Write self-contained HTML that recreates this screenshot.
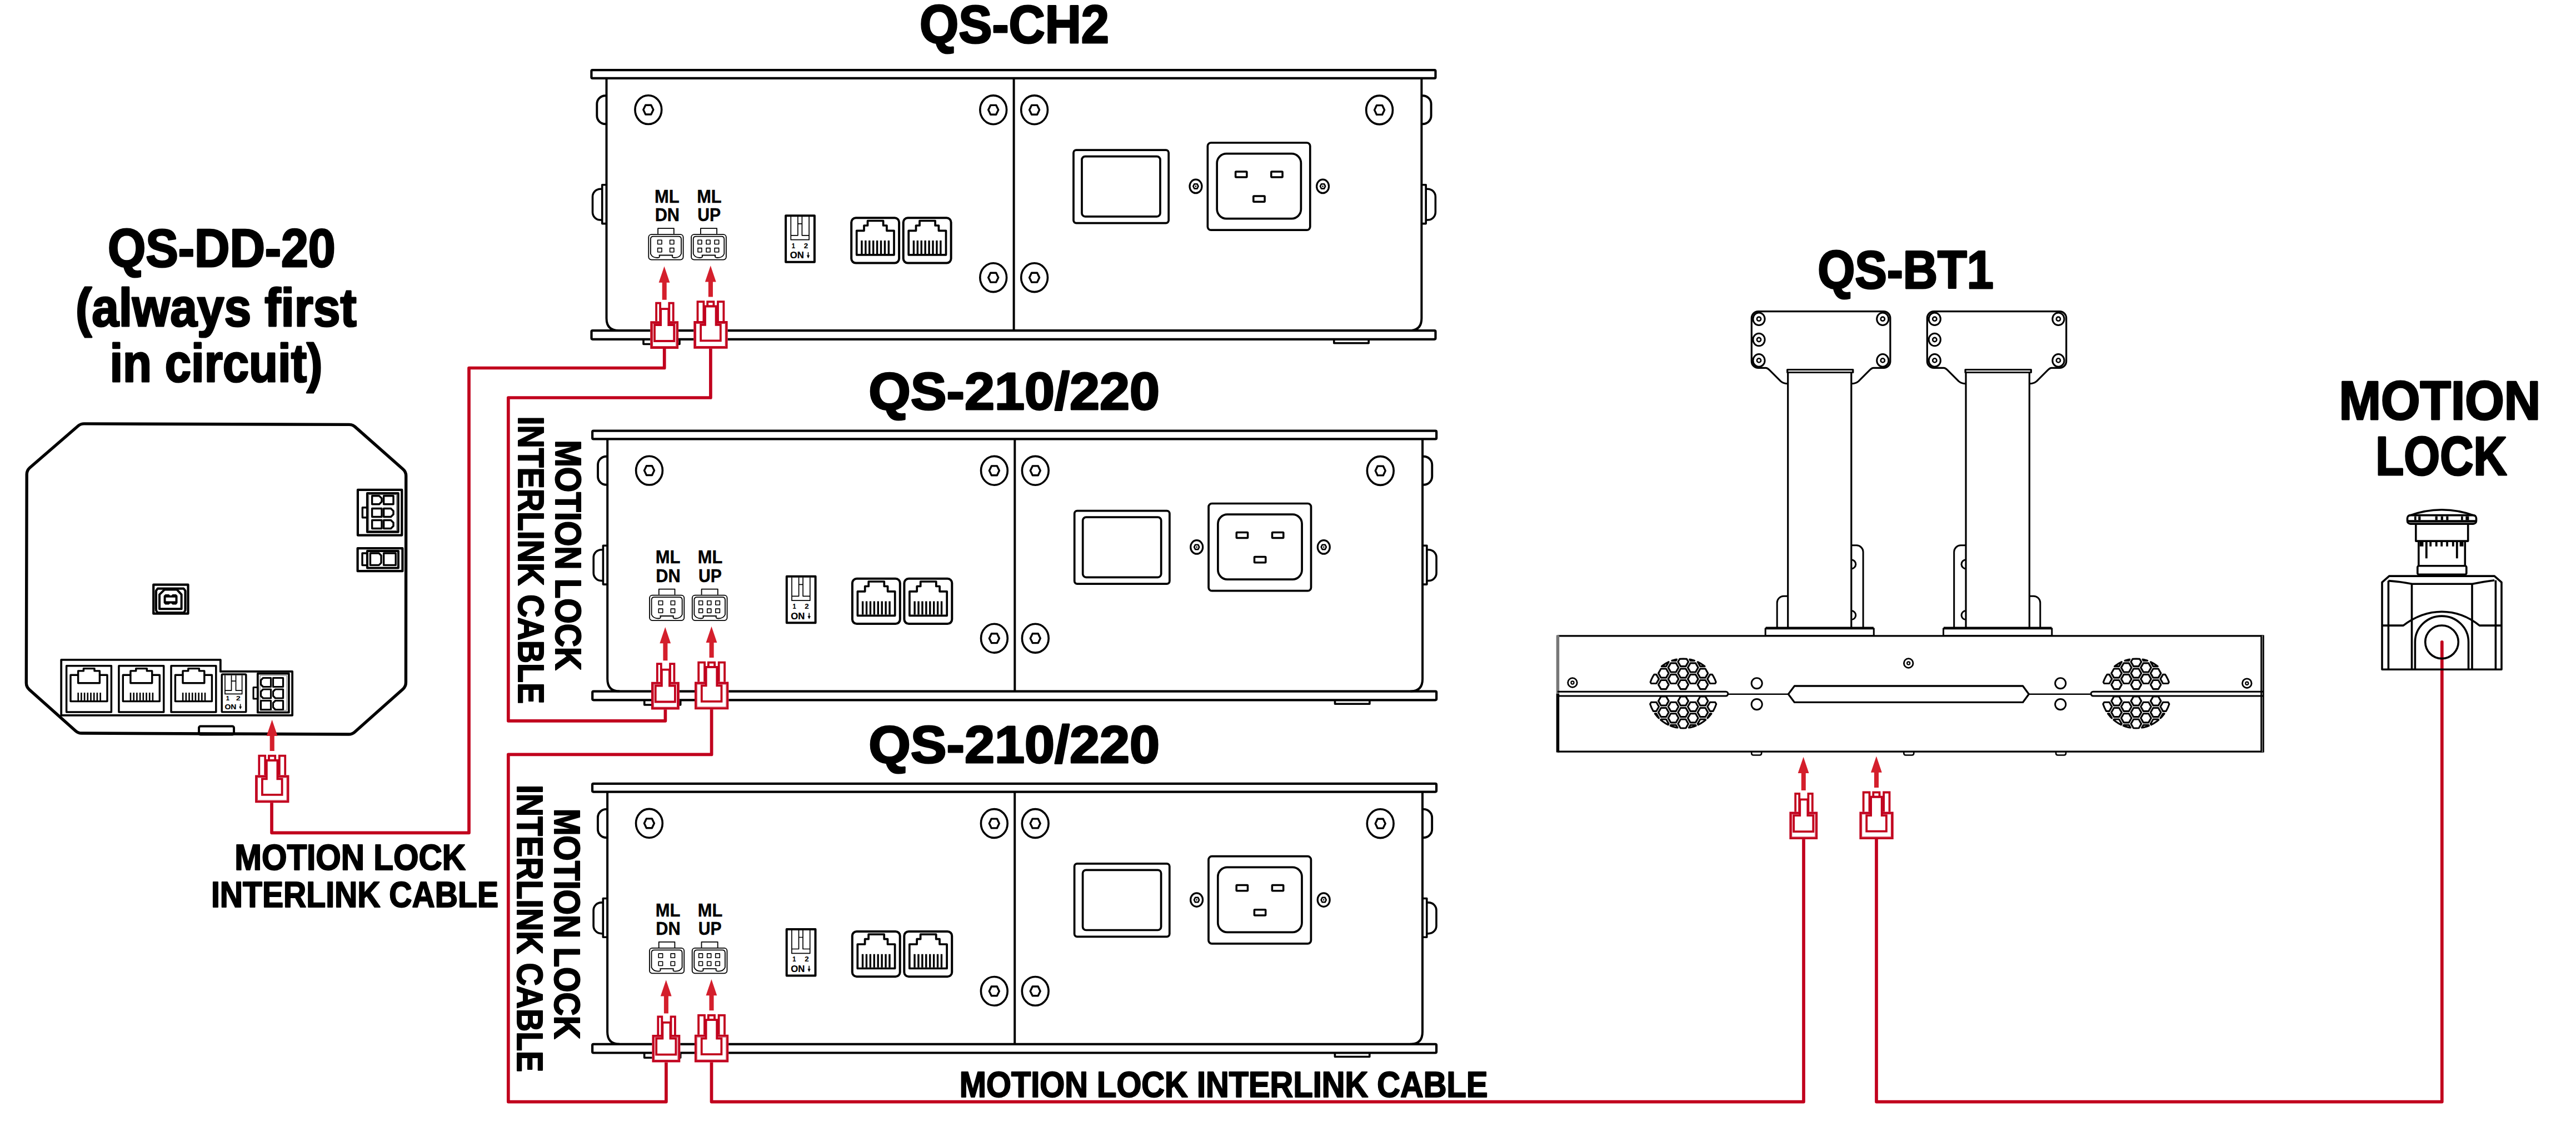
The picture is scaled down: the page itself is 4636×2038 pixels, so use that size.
<!DOCTYPE html><html><head><meta charset="utf-8"><style>html,body{margin:0;padding:0;background:#fff;overflow:hidden}svg{display:block}</style></head><body><svg width="4636" height="2038" viewBox="0 0 4636 2038"><rect width="4636" height="2038" fill="#fff"/><g><g fill="none" stroke="#000" stroke-linejoin="round"><rect x="1064.4" y="126.2" width="1519.1" height="14.7" rx="2" stroke-width="4.2"/><rect x="1064.5" y="595.1" width="1519" height="15.7" rx="2" stroke-width="4.2"/><path d="M1091.5,141 V573 Q1091.5,595.1 1113.5,595.1 M2536.4,595.1 Q2558.4,595.1 2558.4,573 V141" stroke-width="4"/><path d="M1824.6,141 V595" stroke-width="4"/><path d="M1158,611 V619.5 H1223 V611" stroke-width="3.6"/><path d="M2400.8,611 V617.8 H2463.2 V611" stroke-width="3.6"/><path d="M1091.5,172.2 H1089.3 A15,15 0 0 0 1074.3,187.2 V208.3 A15,15 0 0 0 1089.3,223.3 H1091.5" stroke-width="3.9"/><path d="M1091.5,332.8 H1083.7 V402.6 H1091.5" stroke-width="3.6"/><path d="M1083.7,340.2 H1080.5 A14,14 0 0 0 1066.5,354.2 V382 A14,14 0 0 0 1080.5,396 H1083.7" stroke-width="3.6"/><g transform="translate(3649.9,0) scale(-1,1)"><path d="M1091.5,172.2 H1089.3 A15,15 0 0 0 1074.3,187.2 V208.3 A15,15 0 0 0 1089.3,223.3 H1091.5" stroke-width="3.9"/><path d="M1091.5,332.8 H1083.7 V402.6 H1091.5" stroke-width="3.6"/><path d="M1083.7,340.2 H1080.5 A14,14 0 0 0 1066.5,354.2 V382 A14,14 0 0 0 1080.5,396 H1083.7" stroke-width="3.6"/></g><ellipse cx="1166.8" cy="197.6" rx="23.9" ry="25.9" stroke-width="3.6"/><path d="M1157.8,197.6 L1161.8,189.2 L1171.8,189.2 L1175.8,197.6 L1171.8,206 L1161.8,206 Z" stroke-width="3.4"/><ellipse cx="1787.7" cy="197.8" rx="23.9" ry="25.9" stroke-width="3.6"/><path d="M1778.7,197.8 L1782.7,189.4 L1792.7,189.4 L1796.7,197.8 L1792.7,206.2 L1782.7,206.2 Z" stroke-width="3.4"/><ellipse cx="1861.6" cy="197.8" rx="23.9" ry="25.9" stroke-width="3.6"/><path d="M1852.6,197.8 L1856.6,189.4 L1866.6,189.4 L1870.6,197.8 L1866.6,206.2 L1856.6,206.2 Z" stroke-width="3.4"/><ellipse cx="2482.6" cy="198" rx="23.9" ry="25.9" stroke-width="3.6"/><path d="M2473.6,198 L2477.6,189.6 L2487.6,189.6 L2491.6,198 L2487.6,206.4 L2477.6,206.4 Z" stroke-width="3.4"/><ellipse cx="1787.7" cy="499.7" rx="23.9" ry="25.9" stroke-width="3.6"/><path d="M1778.7,499.7 L1782.7,491.3 L1792.7,491.3 L1796.7,499.7 L1792.7,508.1 L1782.7,508.1 Z" stroke-width="3.4"/><ellipse cx="1861.6" cy="499.7" rx="23.9" ry="25.9" stroke-width="3.6"/><path d="M1852.6,499.7 L1856.6,491.3 L1866.6,491.3 L1870.6,499.7 L1866.6,508.1 L1856.6,508.1 Z" stroke-width="3.4"/><rect x="1167.3" y="422.1" width="62.3" height="45.5" rx="5" stroke-width="1.8"/><path d="M1184.1,421.2 V411.1 H1212.8 V421.2" stroke-width="1.8"/><path d="M1175.9,425.6 H1221 Q1226,425.6 1226,430.6 V457 Q1223,464 1214,464 Q1208,464 1210.45,459.5 H1186.45 Q1188.9,464 1182.9,464 Q1173.9,464 1170.9,457 V430.6 Q1170.9,425.6 1175.9,425.6 Z" stroke-width="1.8"/><rect x="1183.6" y="432.2" width="7.4" height="7.3" stroke-width="1.6"/><rect x="1183.6" y="446.6" width="7.4" height="7.2" stroke-width="1.6"/><rect x="1205.6" y="432.2" width="7.3" height="7.3" stroke-width="1.6"/><rect x="1205.6" y="446.6" width="7.3" height="7.2" stroke-width="1.6"/><rect x="1244.1" y="422.1" width="62.8" height="45.5" rx="5" stroke-width="1.8"/><path d="M1260.9,421.2 V411.1 H1290.1 V421.2" stroke-width="1.8"/><path d="M1252.7,425.6 H1298.3 Q1303.3,425.6 1303.3,430.6 V457 Q1300.3,464 1291.3,464 Q1285.3,464 1287.5,459.5 H1263.5 Q1265.7,464 1259.7,464 Q1250.7,464 1247.7,457 V430.6 Q1247.7,425.6 1252.7,425.6 Z" stroke-width="1.8"/><rect x="1256" y="432.2" width="6.9" height="7.3" stroke-width="1.6"/><rect x="1256" y="446.6" width="6.9" height="7.2" stroke-width="1.6"/><rect x="1271.1" y="432.2" width="7" height="7.3" stroke-width="1.6"/><rect x="1271.1" y="446.6" width="7" height="7.2" stroke-width="1.6"/><rect x="1286.1" y="432.2" width="7.6" height="7.3" stroke-width="1.6"/><rect x="1286.1" y="446.6" width="7.6" height="7.2" stroke-width="1.6"/><rect x="1414.1" y="388.2" width="51.8" height="83.5" stroke-width="4"/><path d="M1423.3,390 V431.7 H1456.1 V390 M1423.3,423.8 H1435.9 V390 M1456.1,423.8 H1443.4 V390 M1435.9,402.8 H1443.4" stroke-width="1.7"/><path d="M1454.5,454 V463" stroke-width="1.6"/><path d="M1451.8,459.6 L1454.5,465.2 L1457.2,459.6 Z" fill="#000" stroke="none"/><g transform="translate(0,0)"><rect x="1532.2" y="392.2" width="85.9" height="81.4" rx="8" stroke-width="4"/><path d="M1541.7,458.8 V415.3 H1555 V406 H1561.5 V397.5 H1589.6 V406 H1595.9 V415.3 H1609 V458.8 Z" stroke-width="3.7"/><path d="M1550.9,433.1 V457 M1557.82,433.1 V457 M1564.74,433.1 V457 M1571.66,433.1 V457 M1578.58,433.1 V457 M1585.5,433.1 V457 M1592.42,433.1 V457 M1599.34,433.1 V457 " stroke-width="3.4" stroke-linecap="butt"/></g><g transform="translate(93.5,0)"><rect x="1532.2" y="392.2" width="85.9" height="81.4" rx="8" stroke-width="4"/><path d="M1541.7,458.8 V415.3 H1555 V406 H1561.5 V397.5 H1589.6 V406 H1595.9 V415.3 H1609 V458.8 Z" stroke-width="3.7"/><path d="M1550.9,433.1 V457 M1557.82,433.1 V457 M1564.74,433.1 V457 M1571.66,433.1 V457 M1578.58,433.1 V457 M1585.5,433.1 V457 M1592.42,433.1 V457 M1599.34,433.1 V457 " stroke-width="3.4" stroke-linecap="butt"/></g><rect x="1932" y="270.1" width="171.2" height="131.5" rx="5" stroke-width="3.7"/><rect x="1947" y="281.6" width="141" height="108.2" rx="6" stroke-width="3.7"/><rect x="2173.4" y="257" width="184.4" height="157.2" rx="6" stroke-width="3.7"/><rect x="2190.2" y="276.7" width="151.2" height="116.9" rx="17" stroke-width="3.7"/><rect x="2223.6" y="308.9" width="20.3" height="10.2" rx="1" stroke-width="3.5"/><rect x="2287.8" y="308.9" width="20.3" height="10.2" rx="1" stroke-width="3.5"/><rect x="2255.8" y="353.1" width="20.3" height="10.2" rx="1" stroke-width="3.5"/><ellipse cx="2152" cy="335.4" rx="11" ry="12.3" stroke-width="3.2"/><path d="M2147.4,335.4 L2149.5,331.2 L2154.5,331.2 L2156.6,335.4 L2154.5,339.6 L2149.5,339.6 Z" stroke-width="2.6"/><circle cx="2152" cy="335.4" r="1.3" fill="#000" stroke="none"/><ellipse cx="2380.6" cy="335.4" rx="11" ry="12.3" stroke-width="3.2"/><path d="M2376,335.4 L2378.1,331.2 L2383.1,331.2 L2385.2,335.4 L2383.1,339.6 L2378.1,339.6 Z" stroke-width="2.6"/><circle cx="2380.6" cy="335.4" r="1.3" fill="#000" stroke="none"/></g><g font-family="Liberation Sans, sans-serif"><g transform="translate(0,365.1)"><text transform="translate(1178.04,-0.23) scale(0.9287,1)" font-size="33.33" font-weight="bold" fill="#000" stroke="#000" stroke-width="0.47" stroke-linejoin="round">ML</text></g><g transform="translate(0,398.3)"><text transform="translate(1178.66,-0.23) scale(0.9222,1)" font-size="33.33" font-weight="bold" fill="#000" stroke="#000" stroke-width="0.47" stroke-linejoin="round">DN</text></g><g transform="translate(0,365.1)"><text transform="translate(1254.15,-0.23) scale(0.9243,1)" font-size="33.33" font-weight="bold" fill="#000" stroke="#000" stroke-width="0.47" stroke-linejoin="round">ML</text></g><g transform="translate(0,398.3)"><text transform="translate(1255.2,-0.23) scale(0.9053,1)" font-size="33.33" font-weight="bold" fill="#000" stroke="#000" stroke-width="0.47" stroke-linejoin="round">UP</text></g><g transform="translate(0,446.7)"><text transform="translate(1424.68,-0.09) scale(0.8443,1)" font-size="13.1" font-weight="bold" fill="#000" stroke="#000" stroke-width="0.18" stroke-linejoin="round">1</text></g><g transform="translate(0,446.7)"><text transform="translate(1446.63,-0.09) scale(1.0174,1)" font-size="13.1" font-weight="bold" fill="#000" stroke="#000" stroke-width="0.18" stroke-linejoin="round">2</text></g><g transform="translate(0,465.3)"><text transform="translate(1421.63,-0.12) scale(0.9860,1)" font-size="16.95" font-weight="bold" fill="#000" stroke="#000" stroke-width="0.24" stroke-linejoin="round">ON</text></g></g></g><g transform="translate(1.7,649.5)"><g fill="none" stroke="#000" stroke-linejoin="round"><rect x="1064.4" y="126.2" width="1519.1" height="14.7" rx="2" stroke-width="4.2"/><rect x="1064.5" y="595.1" width="1519" height="15.7" rx="2" stroke-width="4.2"/><path d="M1091.5,141 V573 Q1091.5,595.1 1113.5,595.1 M2536.4,595.1 Q2558.4,595.1 2558.4,573 V141" stroke-width="4"/><path d="M1824.6,141 V595" stroke-width="4"/><path d="M1158,611 V619.5 H1223 V611" stroke-width="3.6"/><path d="M2400.8,611 V617.8 H2463.2 V611" stroke-width="3.6"/><path d="M1091.5,172.2 H1089.3 A15,15 0 0 0 1074.3,187.2 V208.3 A15,15 0 0 0 1089.3,223.3 H1091.5" stroke-width="3.9"/><path d="M1091.5,332.8 H1083.7 V402.6 H1091.5" stroke-width="3.6"/><path d="M1083.7,340.2 H1080.5 A14,14 0 0 0 1066.5,354.2 V382 A14,14 0 0 0 1080.5,396 H1083.7" stroke-width="3.6"/><g transform="translate(3649.9,0) scale(-1,1)"><path d="M1091.5,172.2 H1089.3 A15,15 0 0 0 1074.3,187.2 V208.3 A15,15 0 0 0 1089.3,223.3 H1091.5" stroke-width="3.9"/><path d="M1091.5,332.8 H1083.7 V402.6 H1091.5" stroke-width="3.6"/><path d="M1083.7,340.2 H1080.5 A14,14 0 0 0 1066.5,354.2 V382 A14,14 0 0 0 1080.5,396 H1083.7" stroke-width="3.6"/></g><ellipse cx="1166.8" cy="197.6" rx="23.9" ry="25.9" stroke-width="3.6"/><path d="M1157.8,197.6 L1161.8,189.2 L1171.8,189.2 L1175.8,197.6 L1171.8,206 L1161.8,206 Z" stroke-width="3.4"/><ellipse cx="1787.7" cy="197.8" rx="23.9" ry="25.9" stroke-width="3.6"/><path d="M1778.7,197.8 L1782.7,189.4 L1792.7,189.4 L1796.7,197.8 L1792.7,206.2 L1782.7,206.2 Z" stroke-width="3.4"/><ellipse cx="1861.6" cy="197.8" rx="23.9" ry="25.9" stroke-width="3.6"/><path d="M1852.6,197.8 L1856.6,189.4 L1866.6,189.4 L1870.6,197.8 L1866.6,206.2 L1856.6,206.2 Z" stroke-width="3.4"/><ellipse cx="2482.6" cy="198" rx="23.9" ry="25.9" stroke-width="3.6"/><path d="M2473.6,198 L2477.6,189.6 L2487.6,189.6 L2491.6,198 L2487.6,206.4 L2477.6,206.4 Z" stroke-width="3.4"/><ellipse cx="1787.7" cy="499.7" rx="23.9" ry="25.9" stroke-width="3.6"/><path d="M1778.7,499.7 L1782.7,491.3 L1792.7,491.3 L1796.7,499.7 L1792.7,508.1 L1782.7,508.1 Z" stroke-width="3.4"/><ellipse cx="1861.6" cy="499.7" rx="23.9" ry="25.9" stroke-width="3.6"/><path d="M1852.6,499.7 L1856.6,491.3 L1866.6,491.3 L1870.6,499.7 L1866.6,508.1 L1856.6,508.1 Z" stroke-width="3.4"/><rect x="1167.3" y="422.1" width="62.3" height="45.5" rx="5" stroke-width="1.8"/><path d="M1184.1,421.2 V411.1 H1212.8 V421.2" stroke-width="1.8"/><path d="M1175.9,425.6 H1221 Q1226,425.6 1226,430.6 V457 Q1223,464 1214,464 Q1208,464 1210.45,459.5 H1186.45 Q1188.9,464 1182.9,464 Q1173.9,464 1170.9,457 V430.6 Q1170.9,425.6 1175.9,425.6 Z" stroke-width="1.8"/><rect x="1183.6" y="432.2" width="7.4" height="7.3" stroke-width="1.6"/><rect x="1183.6" y="446.6" width="7.4" height="7.2" stroke-width="1.6"/><rect x="1205.6" y="432.2" width="7.3" height="7.3" stroke-width="1.6"/><rect x="1205.6" y="446.6" width="7.3" height="7.2" stroke-width="1.6"/><rect x="1244.1" y="422.1" width="62.8" height="45.5" rx="5" stroke-width="1.8"/><path d="M1260.9,421.2 V411.1 H1290.1 V421.2" stroke-width="1.8"/><path d="M1252.7,425.6 H1298.3 Q1303.3,425.6 1303.3,430.6 V457 Q1300.3,464 1291.3,464 Q1285.3,464 1287.5,459.5 H1263.5 Q1265.7,464 1259.7,464 Q1250.7,464 1247.7,457 V430.6 Q1247.7,425.6 1252.7,425.6 Z" stroke-width="1.8"/><rect x="1256" y="432.2" width="6.9" height="7.3" stroke-width="1.6"/><rect x="1256" y="446.6" width="6.9" height="7.2" stroke-width="1.6"/><rect x="1271.1" y="432.2" width="7" height="7.3" stroke-width="1.6"/><rect x="1271.1" y="446.6" width="7" height="7.2" stroke-width="1.6"/><rect x="1286.1" y="432.2" width="7.6" height="7.3" stroke-width="1.6"/><rect x="1286.1" y="446.6" width="7.6" height="7.2" stroke-width="1.6"/><rect x="1414.1" y="388.2" width="51.8" height="83.5" stroke-width="4"/><path d="M1423.3,390 V431.7 H1456.1 V390 M1423.3,423.8 H1435.9 V390 M1456.1,423.8 H1443.4 V390 M1435.9,402.8 H1443.4" stroke-width="1.7"/><path d="M1454.5,454 V463" stroke-width="1.6"/><path d="M1451.8,459.6 L1454.5,465.2 L1457.2,459.6 Z" fill="#000" stroke="none"/><g transform="translate(0,0)"><rect x="1532.2" y="392.2" width="85.9" height="81.4" rx="8" stroke-width="4"/><path d="M1541.7,458.8 V415.3 H1555 V406 H1561.5 V397.5 H1589.6 V406 H1595.9 V415.3 H1609 V458.8 Z" stroke-width="3.7"/><path d="M1550.9,433.1 V457 M1557.82,433.1 V457 M1564.74,433.1 V457 M1571.66,433.1 V457 M1578.58,433.1 V457 M1585.5,433.1 V457 M1592.42,433.1 V457 M1599.34,433.1 V457 " stroke-width="3.4" stroke-linecap="butt"/></g><g transform="translate(93.5,0)"><rect x="1532.2" y="392.2" width="85.9" height="81.4" rx="8" stroke-width="4"/><path d="M1541.7,458.8 V415.3 H1555 V406 H1561.5 V397.5 H1589.6 V406 H1595.9 V415.3 H1609 V458.8 Z" stroke-width="3.7"/><path d="M1550.9,433.1 V457 M1557.82,433.1 V457 M1564.74,433.1 V457 M1571.66,433.1 V457 M1578.58,433.1 V457 M1585.5,433.1 V457 M1592.42,433.1 V457 M1599.34,433.1 V457 " stroke-width="3.4" stroke-linecap="butt"/></g><rect x="1932" y="270.1" width="171.2" height="131.5" rx="5" stroke-width="3.7"/><rect x="1947" y="281.6" width="141" height="108.2" rx="6" stroke-width="3.7"/><rect x="2173.4" y="257" width="184.4" height="157.2" rx="6" stroke-width="3.7"/><rect x="2190.2" y="276.7" width="151.2" height="116.9" rx="17" stroke-width="3.7"/><rect x="2223.6" y="308.9" width="20.3" height="10.2" rx="1" stroke-width="3.5"/><rect x="2287.8" y="308.9" width="20.3" height="10.2" rx="1" stroke-width="3.5"/><rect x="2255.8" y="353.1" width="20.3" height="10.2" rx="1" stroke-width="3.5"/><ellipse cx="2152" cy="335.4" rx="11" ry="12.3" stroke-width="3.2"/><path d="M2147.4,335.4 L2149.5,331.2 L2154.5,331.2 L2156.6,335.4 L2154.5,339.6 L2149.5,339.6 Z" stroke-width="2.6"/><circle cx="2152" cy="335.4" r="1.3" fill="#000" stroke="none"/><ellipse cx="2380.6" cy="335.4" rx="11" ry="12.3" stroke-width="3.2"/><path d="M2376,335.4 L2378.1,331.2 L2383.1,331.2 L2385.2,335.4 L2383.1,339.6 L2378.1,339.6 Z" stroke-width="2.6"/><circle cx="2380.6" cy="335.4" r="1.3" fill="#000" stroke="none"/></g><g font-family="Liberation Sans, sans-serif"><g transform="translate(0,365.1)"><text transform="translate(1178.04,-0.23) scale(0.9287,1)" font-size="33.33" font-weight="bold" fill="#000" stroke="#000" stroke-width="0.47" stroke-linejoin="round">ML</text></g><g transform="translate(0,398.3)"><text transform="translate(1178.66,-0.23) scale(0.9222,1)" font-size="33.33" font-weight="bold" fill="#000" stroke="#000" stroke-width="0.47" stroke-linejoin="round">DN</text></g><g transform="translate(0,365.1)"><text transform="translate(1254.15,-0.23) scale(0.9243,1)" font-size="33.33" font-weight="bold" fill="#000" stroke="#000" stroke-width="0.47" stroke-linejoin="round">ML</text></g><g transform="translate(0,398.3)"><text transform="translate(1255.2,-0.23) scale(0.9053,1)" font-size="33.33" font-weight="bold" fill="#000" stroke="#000" stroke-width="0.47" stroke-linejoin="round">UP</text></g><g transform="translate(0,446.7)"><text transform="translate(1424.68,-0.09) scale(0.8443,1)" font-size="13.1" font-weight="bold" fill="#000" stroke="#000" stroke-width="0.18" stroke-linejoin="round">1</text></g><g transform="translate(0,446.7)"><text transform="translate(1446.63,-0.09) scale(1.0174,1)" font-size="13.1" font-weight="bold" fill="#000" stroke="#000" stroke-width="0.18" stroke-linejoin="round">2</text></g><g transform="translate(0,465.3)"><text transform="translate(1421.63,-0.12) scale(0.9860,1)" font-size="16.95" font-weight="bold" fill="#000" stroke="#000" stroke-width="0.24" stroke-linejoin="round">ON</text></g></g></g><g transform="translate(1.6,1284.7)"><g fill="none" stroke="#000" stroke-linejoin="round"><rect x="1064.4" y="126.2" width="1519.1" height="14.7" rx="2" stroke-width="4.2"/><rect x="1064.5" y="595.1" width="1519" height="15.7" rx="2" stroke-width="4.2"/><path d="M1091.5,141 V573 Q1091.5,595.1 1113.5,595.1 M2536.4,595.1 Q2558.4,595.1 2558.4,573 V141" stroke-width="4"/><path d="M1824.6,141 V595" stroke-width="4"/><path d="M1158,611 V619.5 H1223 V611" stroke-width="3.6"/><path d="M2400.8,611 V617.8 H2463.2 V611" stroke-width="3.6"/><path d="M1091.5,172.2 H1089.3 A15,15 0 0 0 1074.3,187.2 V208.3 A15,15 0 0 0 1089.3,223.3 H1091.5" stroke-width="3.9"/><path d="M1091.5,332.8 H1083.7 V402.6 H1091.5" stroke-width="3.6"/><path d="M1083.7,340.2 H1080.5 A14,14 0 0 0 1066.5,354.2 V382 A14,14 0 0 0 1080.5,396 H1083.7" stroke-width="3.6"/><g transform="translate(3649.9,0) scale(-1,1)"><path d="M1091.5,172.2 H1089.3 A15,15 0 0 0 1074.3,187.2 V208.3 A15,15 0 0 0 1089.3,223.3 H1091.5" stroke-width="3.9"/><path d="M1091.5,332.8 H1083.7 V402.6 H1091.5" stroke-width="3.6"/><path d="M1083.7,340.2 H1080.5 A14,14 0 0 0 1066.5,354.2 V382 A14,14 0 0 0 1080.5,396 H1083.7" stroke-width="3.6"/></g><ellipse cx="1166.8" cy="197.6" rx="23.9" ry="25.9" stroke-width="3.6"/><path d="M1157.8,197.6 L1161.8,189.2 L1171.8,189.2 L1175.8,197.6 L1171.8,206 L1161.8,206 Z" stroke-width="3.4"/><ellipse cx="1787.7" cy="197.8" rx="23.9" ry="25.9" stroke-width="3.6"/><path d="M1778.7,197.8 L1782.7,189.4 L1792.7,189.4 L1796.7,197.8 L1792.7,206.2 L1782.7,206.2 Z" stroke-width="3.4"/><ellipse cx="1861.6" cy="197.8" rx="23.9" ry="25.9" stroke-width="3.6"/><path d="M1852.6,197.8 L1856.6,189.4 L1866.6,189.4 L1870.6,197.8 L1866.6,206.2 L1856.6,206.2 Z" stroke-width="3.4"/><ellipse cx="2482.6" cy="198" rx="23.9" ry="25.9" stroke-width="3.6"/><path d="M2473.6,198 L2477.6,189.6 L2487.6,189.6 L2491.6,198 L2487.6,206.4 L2477.6,206.4 Z" stroke-width="3.4"/><ellipse cx="1787.7" cy="499.7" rx="23.9" ry="25.9" stroke-width="3.6"/><path d="M1778.7,499.7 L1782.7,491.3 L1792.7,491.3 L1796.7,499.7 L1792.7,508.1 L1782.7,508.1 Z" stroke-width="3.4"/><ellipse cx="1861.6" cy="499.7" rx="23.9" ry="25.9" stroke-width="3.6"/><path d="M1852.6,499.7 L1856.6,491.3 L1866.6,491.3 L1870.6,499.7 L1866.6,508.1 L1856.6,508.1 Z" stroke-width="3.4"/><rect x="1167.3" y="422.1" width="62.3" height="45.5" rx="5" stroke-width="1.8"/><path d="M1184.1,421.2 V411.1 H1212.8 V421.2" stroke-width="1.8"/><path d="M1175.9,425.6 H1221 Q1226,425.6 1226,430.6 V457 Q1223,464 1214,464 Q1208,464 1210.45,459.5 H1186.45 Q1188.9,464 1182.9,464 Q1173.9,464 1170.9,457 V430.6 Q1170.9,425.6 1175.9,425.6 Z" stroke-width="1.8"/><rect x="1183.6" y="432.2" width="7.4" height="7.3" stroke-width="1.6"/><rect x="1183.6" y="446.6" width="7.4" height="7.2" stroke-width="1.6"/><rect x="1205.6" y="432.2" width="7.3" height="7.3" stroke-width="1.6"/><rect x="1205.6" y="446.6" width="7.3" height="7.2" stroke-width="1.6"/><rect x="1244.1" y="422.1" width="62.8" height="45.5" rx="5" stroke-width="1.8"/><path d="M1260.9,421.2 V411.1 H1290.1 V421.2" stroke-width="1.8"/><path d="M1252.7,425.6 H1298.3 Q1303.3,425.6 1303.3,430.6 V457 Q1300.3,464 1291.3,464 Q1285.3,464 1287.5,459.5 H1263.5 Q1265.7,464 1259.7,464 Q1250.7,464 1247.7,457 V430.6 Q1247.7,425.6 1252.7,425.6 Z" stroke-width="1.8"/><rect x="1256" y="432.2" width="6.9" height="7.3" stroke-width="1.6"/><rect x="1256" y="446.6" width="6.9" height="7.2" stroke-width="1.6"/><rect x="1271.1" y="432.2" width="7" height="7.3" stroke-width="1.6"/><rect x="1271.1" y="446.6" width="7" height="7.2" stroke-width="1.6"/><rect x="1286.1" y="432.2" width="7.6" height="7.3" stroke-width="1.6"/><rect x="1286.1" y="446.6" width="7.6" height="7.2" stroke-width="1.6"/><rect x="1414.1" y="388.2" width="51.8" height="83.5" stroke-width="4"/><path d="M1423.3,390 V431.7 H1456.1 V390 M1423.3,423.8 H1435.9 V390 M1456.1,423.8 H1443.4 V390 M1435.9,402.8 H1443.4" stroke-width="1.7"/><path d="M1454.5,454 V463" stroke-width="1.6"/><path d="M1451.8,459.6 L1454.5,465.2 L1457.2,459.6 Z" fill="#000" stroke="none"/><g transform="translate(0,0)"><rect x="1532.2" y="392.2" width="85.9" height="81.4" rx="8" stroke-width="4"/><path d="M1541.7,458.8 V415.3 H1555 V406 H1561.5 V397.5 H1589.6 V406 H1595.9 V415.3 H1609 V458.8 Z" stroke-width="3.7"/><path d="M1550.9,433.1 V457 M1557.82,433.1 V457 M1564.74,433.1 V457 M1571.66,433.1 V457 M1578.58,433.1 V457 M1585.5,433.1 V457 M1592.42,433.1 V457 M1599.34,433.1 V457 " stroke-width="3.4" stroke-linecap="butt"/></g><g transform="translate(93.5,0)"><rect x="1532.2" y="392.2" width="85.9" height="81.4" rx="8" stroke-width="4"/><path d="M1541.7,458.8 V415.3 H1555 V406 H1561.5 V397.5 H1589.6 V406 H1595.9 V415.3 H1609 V458.8 Z" stroke-width="3.7"/><path d="M1550.9,433.1 V457 M1557.82,433.1 V457 M1564.74,433.1 V457 M1571.66,433.1 V457 M1578.58,433.1 V457 M1585.5,433.1 V457 M1592.42,433.1 V457 M1599.34,433.1 V457 " stroke-width="3.4" stroke-linecap="butt"/></g><rect x="1932" y="270.1" width="171.2" height="131.5" rx="5" stroke-width="3.7"/><rect x="1947" y="281.6" width="141" height="108.2" rx="6" stroke-width="3.7"/><rect x="2173.4" y="257" width="184.4" height="157.2" rx="6" stroke-width="3.7"/><rect x="2190.2" y="276.7" width="151.2" height="116.9" rx="17" stroke-width="3.7"/><rect x="2223.6" y="308.9" width="20.3" height="10.2" rx="1" stroke-width="3.5"/><rect x="2287.8" y="308.9" width="20.3" height="10.2" rx="1" stroke-width="3.5"/><rect x="2255.8" y="353.1" width="20.3" height="10.2" rx="1" stroke-width="3.5"/><ellipse cx="2152" cy="335.4" rx="11" ry="12.3" stroke-width="3.2"/><path d="M2147.4,335.4 L2149.5,331.2 L2154.5,331.2 L2156.6,335.4 L2154.5,339.6 L2149.5,339.6 Z" stroke-width="2.6"/><circle cx="2152" cy="335.4" r="1.3" fill="#000" stroke="none"/><ellipse cx="2380.6" cy="335.4" rx="11" ry="12.3" stroke-width="3.2"/><path d="M2376,335.4 L2378.1,331.2 L2383.1,331.2 L2385.2,335.4 L2383.1,339.6 L2378.1,339.6 Z" stroke-width="2.6"/><circle cx="2380.6" cy="335.4" r="1.3" fill="#000" stroke="none"/></g><g font-family="Liberation Sans, sans-serif"><g transform="translate(0,365.1)"><text transform="translate(1178.04,-0.23) scale(0.9287,1)" font-size="33.33" font-weight="bold" fill="#000" stroke="#000" stroke-width="0.47" stroke-linejoin="round">ML</text></g><g transform="translate(0,398.3)"><text transform="translate(1178.66,-0.23) scale(0.9222,1)" font-size="33.33" font-weight="bold" fill="#000" stroke="#000" stroke-width="0.47" stroke-linejoin="round">DN</text></g><g transform="translate(0,365.1)"><text transform="translate(1254.15,-0.23) scale(0.9243,1)" font-size="33.33" font-weight="bold" fill="#000" stroke="#000" stroke-width="0.47" stroke-linejoin="round">ML</text></g><g transform="translate(0,398.3)"><text transform="translate(1255.2,-0.23) scale(0.9053,1)" font-size="33.33" font-weight="bold" fill="#000" stroke="#000" stroke-width="0.47" stroke-linejoin="round">UP</text></g><g transform="translate(0,446.7)"><text transform="translate(1424.68,-0.09) scale(0.8443,1)" font-size="13.1" font-weight="bold" fill="#000" stroke="#000" stroke-width="0.18" stroke-linejoin="round">1</text></g><g transform="translate(0,446.7)"><text transform="translate(1446.63,-0.09) scale(1.0174,1)" font-size="13.1" font-weight="bold" fill="#000" stroke="#000" stroke-width="0.18" stroke-linejoin="round">2</text></g><g transform="translate(0,465.3)"><text transform="translate(1421.63,-0.12) scale(0.9860,1)" font-size="16.95" font-weight="bold" fill="#000" stroke="#000" stroke-width="0.24" stroke-linejoin="round">ON</text></g></g></g><g fill="none" stroke="#000" stroke-linejoin="round"><path d="M151.19,762.92 L628.37,764.38 Q634.4,764.4 638.92,768.39 L725.29,844.72 Q730.7,849.5 730.69,856.72 L730.41,1228.74 Q730.4,1235.9 725.05,1240.67 L638.28,1318.02 Q633.7,1322.1 627.56,1322.07 L146.76,1320.03 Q140.7,1320 136.18,1315.97 L52.67,1241.49 Q47.3,1236.7 47.32,1229.51 L48.18,854.09 Q48.2,846.8 53.72,842.03 L140.67,766.82 Q145.2,762.9 151.19,762.92 Z" stroke-width="5.4"/><rect x="358" y="1307.6" width="63" height="15" rx="3" stroke-width="4"/><path d="M110.2,1287.8 V1187.9 H396.8 V1208.9 H526.1 V1287.8 Z" stroke-width="3.8"/><g transform="translate(0,0)"><rect x="119.6" y="1198.7" width="80.8" height="83.2" stroke-width="3.5"/><path d="M127,1262.6 V1215.3 H140.6 V1207.9 H150.4 V1203.6 H170 V1207.9 H179.4 V1215.3 H193 V1262.6 Z" stroke-width="3.4"/><path d="M140.6,1215.3 V1229.8 H179.4 V1215.3" stroke-width="3.4"/><path d="M140.7,1246.9 V1262 M146.4,1246.9 V1262 M152.1,1246.9 V1262 M157.8,1246.9 V1262 M163.5,1246.9 V1262 M169.2,1246.9 V1262 M174.9,1246.9 V1262 M180.6,1246.9 V1262 " stroke-width="2.6"/></g><g transform="translate(94.3,0)"><rect x="119.6" y="1198.7" width="80.8" height="83.2" stroke-width="3.5"/><path d="M127,1262.6 V1215.3 H140.6 V1207.9 H150.4 V1203.6 H170 V1207.9 H179.4 V1215.3 H193 V1262.6 Z" stroke-width="3.4"/><path d="M140.6,1215.3 V1229.8 H179.4 V1215.3" stroke-width="3.4"/><path d="M140.7,1246.9 V1262 M146.4,1246.9 V1262 M152.1,1246.9 V1262 M157.8,1246.9 V1262 M163.5,1246.9 V1262 M169.2,1246.9 V1262 M174.9,1246.9 V1262 M180.6,1246.9 V1262 " stroke-width="2.6"/></g><g transform="translate(188.4,0)"><rect x="119.6" y="1198.7" width="80.8" height="83.2" stroke-width="3.5"/><path d="M127,1262.6 V1215.3 H140.6 V1207.9 H150.4 V1203.6 H170 V1207.9 H179.4 V1215.3 H193 V1262.6 Z" stroke-width="3.4"/><path d="M140.6,1215.3 V1229.8 H179.4 V1215.3" stroke-width="3.4"/><path d="M140.7,1246.9 V1262 M146.4,1246.9 V1262 M152.1,1246.9 V1262 M157.8,1246.9 V1262 M163.5,1246.9 V1262 M169.2,1246.9 V1262 M174.9,1246.9 V1262 M180.6,1246.9 V1262 " stroke-width="2.6"/></g><rect x="399.2" y="1214" width="43.6" height="67.9" rx="1.5" stroke-width="3.4"/><path d="M404.9,1216 V1249.4 H435.6 V1216 M404.9,1243.2 H416.5 V1216 M435.6,1243.2 H424.5 V1216 M416.5,1226.2 H424.5" stroke-width="1.7"/><path d="M432.6,1267.5 V1274.5" stroke-width="1.6"/><path d="M430.1,1272 L432.6,1277 L435.1,1272 Z" fill="#000" stroke="none"/><rect x="463.8" y="1212.7" width="56" height="70" stroke-width="3.8"/><rect x="456" y="1237.5" width="7.8" height="20.5" stroke-width="3"/><rect x="468" y="1216" width="48" height="63" stroke-width="1" opacity="0.6"/><path d="M473.5,1220.5 H487.5 V1236.5 H473.5 L469.5,1232.5 V1224.5 Z" stroke-width="3.2"/><rect x="491.5" y="1220.5" width="18" height="16" stroke-width="3.2"/><path d="M473.5,1241 H487.5 V1257 H473.5 L469.5,1253 V1245 Z" stroke-width="3.2"/><path d="M495.5,1241 H509.5 V1257 H495.5 L491.5,1253 V1245 Z" stroke-width="3.2"/><rect x="469.5" y="1261.5" width="18" height="16" stroke-width="3.2"/><path d="M495.5,1261.5 H509.5 V1277.5 H495.5 L491.5,1273.5 V1265.5 Z" stroke-width="3.2"/><rect x="643.9" y="881.9" width="79.4" height="81.7" stroke-width="4.2"/><rect x="660.9" y="888" width="55.8" height="69.8" stroke-width="4"/><rect x="663.8" y="890.4" width="49.7" height="65.1" stroke-width="1" opacity="0.6"/><rect x="652.3" y="913.8" width="8.6" height="17.9" stroke-width="3.4"/><path d="M669.6,892.8 H682.5 L687,897.3 V903.3 L682.5,907.8 H669.6 Z" stroke-width="3.4"/><rect x="690.6" y="892.8" width="17.4" height="15" stroke-width="3.4"/><rect x="669.6" y="915.5" width="17.4" height="15" stroke-width="3.4"/><path d="M690.6,915.5 H703.5 L708,920 V926 L703.5,930.5 H690.6 Z" stroke-width="3.4"/><rect x="669.6" y="936.5" width="17.4" height="15" stroke-width="3.4"/><path d="M690.6,936.5 H703.5 L708,941 V947 L703.5,951.5 H690.6 Z" stroke-width="3.4"/><rect x="643.6" y="987.1" width="80.8" height="41.1" stroke-width="4.2"/><rect x="660.9" y="992" width="56" height="30.4" stroke-width="4"/><rect x="652" y="996" width="8.9" height="21.6" stroke-width="3.4"/><path d="M666.4,996 H682 L686,1000 V1013.4 L682,1017.4 H666.4 Z" stroke-width="3.4"/><rect x="690.6" y="996" width="21.6" height="21.4" stroke-width="3.4"/><rect x="276.2" y="1052.7" width="62.3" height="52" stroke-width="4.2"/><path d="M283,1058 H331 L335,1064 V1097 L331,1103 H283 L279,1097 V1064 Z" stroke-width="1" opacity="0.6"/><path d="M283.6,1059.8 H330.8 L333.4,1063.5 V1099 L330.8,1103 H283.6 L281,1099 V1063.5 Z" stroke-width="4"/><path d="M296,1061.6 H318.5 L326.6,1070.4 V1096.2 H287 V1070.4 Z" stroke-width="4"/><path d="M297.5,1070 H304 L306,1072 H308.5 L310.5,1070 H317 L319.5,1072.8 V1085.6 L317,1088.4 H310.5 L308.5,1086.6 H306 L304,1088.4 H297.5 L294.6,1085.6 V1072.8 Z" fill="#000" stroke="none"/><rect x="298.5" y="1075.7" width="17" height="6.7" fill="#fff" stroke="none"/></g><g font-family="Liberation Sans, sans-serif"><g transform="translate(0,1261.4)"><text transform="translate(406.79,-0.08) scale(0.9897,1)" font-size="10.97" font-weight="bold" fill="#000" stroke="#000" stroke-width="0.15" stroke-linejoin="round">1</text></g><g transform="translate(0,1261.4)"><text transform="translate(425.02,-0.08) scale(1.2524,1)" font-size="10.97" font-weight="bold" fill="#000" stroke="#000" stroke-width="0.15" stroke-linejoin="round">2</text></g><g transform="translate(0,1276.7)"><text transform="translate(404.43,-0.09) scale(1.0523,1)" font-size="13.25" font-weight="bold" fill="#000" stroke="#000" stroke-width="0.19" stroke-linejoin="round">ON</text></g></g><g fill="none" stroke="#c1001d" stroke-width="5.7" stroke-linejoin="round" stroke-linecap="round"><path d="M489,1445 V1499.3 H844 V662.5 H1195.7 V627.9"/><path d="M1278.9,627.7 V716 H914.8 V1297.8 H1197.4 V1277.4"/><path d="M1280.6,1277.2 V1358.4 H914.8 V1983.6 H1198.9 V1912.6"/><path d="M1280.5,1912.4 V1983.6 H3246 V1511.4"/><path d="M3377,1511.4 V1983.6 H4394.8 V1155.8"/></g><g transform="translate(1195.7,578.2)"><rect x="-25.4" y="0" width="50.8" height="49.7" fill="#fff"/><g fill="none" stroke="#c1001d" stroke-width="3.8" stroke-linejoin="miter"><path d="M-6.55,1.9 H-23.5 V47.8 H23.5 V1.9 H7.55"/><path d="M-6.55,4.3 H-21.1 V45.5 H21.1 V4.3 H7.55" stroke-width="0.9"/><path d="M-14.6,0 V-32.6 H-7.6 V0 M8.6,0 V-32.6 H16 V0"/><path d="M-6.55,-22.1 V6.8 H-17.7 V35.8 H17.5 V6.8 H7.55 V-22.1 Z"/></g><path d="M-0.2,-98.7 L9.7,-69.5 H4 V-38.4 H-4 V-69.5 H-10.1 Z" fill="#d41f2c"/></g><g transform="translate(1278.9,578.1)"><rect x="-30.6" y="0" width="61.3" height="49.6" fill="#fff"/><g fill="none" stroke="#c1001d" stroke-width="3.8" stroke-linejoin="miter"><path d="M-9.9,1.9 H-28.7 V47.7 H28.8 V1.9 H9.7"/><path d="M-9.9,4.3 H-26.3 V45.4 H26.4 V4.3 H9.7" stroke-width="0.9"/><path d="M-23.4,0 V-34.9 H-12.5 V0 M13.1,0 V-34.9 H23.5 V0"/><rect x="-5.7" y="-34.9" width="11.2" height="8.2"/><path d="M-9.9,-26.7 V6.8 H-17.8 V35.3 H17.9 V6.8 H9.7 V-26.7 Z"/></g><path d="M-0.1,-99.8 L9.8,-70.6 H4.05 V-43.5 H-4.05 V-70.6 H-10 Z" fill="#d41f2c"/></g><g transform="translate(1197.4,1227.7)"><rect x="-25.4" y="0" width="50.8" height="49.7" fill="#fff"/><g fill="none" stroke="#c1001d" stroke-width="3.8" stroke-linejoin="miter"><path d="M-6.55,1.9 H-23.5 V47.8 H23.5 V1.9 H7.55"/><path d="M-6.55,4.3 H-21.1 V45.5 H21.1 V4.3 H7.55" stroke-width="0.9"/><path d="M-14.6,0 V-32.6 H-7.6 V0 M8.6,0 V-32.6 H16 V0"/><path d="M-6.55,-22.1 V6.8 H-17.7 V35.8 H17.5 V6.8 H7.55 V-22.1 Z"/></g><path d="M-0.2,-98.7 L9.7,-69.5 H4 V-38.4 H-4 V-69.5 H-10.1 Z" fill="#d41f2c"/></g><g transform="translate(1280.6,1227.6)"><rect x="-30.6" y="0" width="61.3" height="49.6" fill="#fff"/><g fill="none" stroke="#c1001d" stroke-width="3.8" stroke-linejoin="miter"><path d="M-9.9,1.9 H-28.7 V47.7 H28.8 V1.9 H9.7"/><path d="M-9.9,4.3 H-26.3 V45.4 H26.4 V4.3 H9.7" stroke-width="0.9"/><path d="M-23.4,0 V-34.9 H-12.5 V0 M13.1,0 V-34.9 H23.5 V0"/><rect x="-5.7" y="-34.9" width="11.2" height="8.2"/><path d="M-9.9,-26.7 V6.8 H-17.8 V35.3 H17.9 V6.8 H9.7 V-26.7 Z"/></g><path d="M-0.1,-99.8 L9.8,-70.6 H4.05 V-43.5 H-4.05 V-70.6 H-10 Z" fill="#d41f2c"/></g><g transform="translate(1198.9,1862.9)"><rect x="-25.4" y="0" width="50.8" height="49.7" fill="#fff"/><g fill="none" stroke="#c1001d" stroke-width="3.8" stroke-linejoin="miter"><path d="M-6.55,1.9 H-23.5 V47.8 H23.5 V1.9 H7.55"/><path d="M-6.55,4.3 H-21.1 V45.5 H21.1 V4.3 H7.55" stroke-width="0.9"/><path d="M-14.6,0 V-32.6 H-7.6 V0 M8.6,0 V-32.6 H16 V0"/><path d="M-6.55,-22.1 V6.8 H-17.7 V35.8 H17.5 V6.8 H7.55 V-22.1 Z"/></g><path d="M-0.2,-98.7 L9.7,-69.5 H4 V-38.4 H-4 V-69.5 H-10.1 Z" fill="#d41f2c"/></g><g transform="translate(1280.5,1862.8)"><rect x="-30.6" y="0" width="61.3" height="49.6" fill="#fff"/><g fill="none" stroke="#c1001d" stroke-width="3.8" stroke-linejoin="miter"><path d="M-9.9,1.9 H-28.7 V47.7 H28.8 V1.9 H9.7"/><path d="M-9.9,4.3 H-26.3 V45.4 H26.4 V4.3 H9.7" stroke-width="0.9"/><path d="M-23.4,0 V-34.9 H-12.5 V0 M13.1,0 V-34.9 H23.5 V0"/><rect x="-5.7" y="-34.9" width="11.2" height="8.2"/><path d="M-9.9,-26.7 V6.8 H-17.8 V35.3 H17.9 V6.8 H9.7 V-26.7 Z"/></g><path d="M-0.1,-99.8 L9.8,-70.6 H4.05 V-43.5 H-4.05 V-70.6 H-10 Z" fill="#d41f2c"/></g><g transform="translate(489.7,1395.6)"><rect x="-30.6" y="0" width="61.3" height="49.6" fill="#fff"/><g fill="none" stroke="#c1001d" stroke-width="3.8" stroke-linejoin="miter"><path d="M-9.9,1.9 H-28.7 V47.7 H28.8 V1.9 H9.7"/><path d="M-9.9,4.3 H-26.3 V45.4 H26.4 V4.3 H9.7" stroke-width="0.9"/><path d="M-23.4,0 V-34.9 H-12.5 V0 M13.1,0 V-34.9 H23.5 V0"/><rect x="-5.7" y="-34.9" width="11.2" height="8.2"/><path d="M-9.9,-26.7 V6.8 H-17.8 V35.3 H17.9 V6.8 H9.7 V-26.7 Z"/></g><path d="M-0.1,-99.8 L9.8,-70.6 H4.05 V-43.5 H-4.05 V-70.6 H-10 Z" fill="#d41f2c"/></g><g transform="translate(3245.8,1461.4)"><rect x="-25.4" y="0" width="50.8" height="49.7" fill="#fff"/><g fill="none" stroke="#c1001d" stroke-width="3.8" stroke-linejoin="miter"><path d="M-6.55,1.9 H-23.5 V47.8 H23.5 V1.9 H7.55"/><path d="M-6.55,4.3 H-21.1 V45.5 H21.1 V4.3 H7.55" stroke-width="0.9"/><path d="M-14.6,0 V-32.6 H-7.6 V0 M8.6,0 V-32.6 H16 V0"/><path d="M-6.55,-22.1 V6.8 H-17.7 V35.8 H17.5 V6.8 H7.55 V-22.1 Z"/></g><path d="M-0.2,-98.7 L9.7,-69.5 H4 V-38.4 H-4 V-69.5 H-10.1 Z" fill="#d41f2c"/></g><g transform="translate(3377,1461.4)"><rect x="-30.6" y="0" width="61.3" height="49.6" fill="#fff"/><g fill="none" stroke="#c1001d" stroke-width="3.8" stroke-linejoin="miter"><path d="M-9.9,1.9 H-28.7 V47.7 H28.8 V1.9 H9.7"/><path d="M-9.9,4.3 H-26.3 V45.4 H26.4 V4.3 H9.7" stroke-width="0.9"/><path d="M-23.4,0 V-34.9 H-12.5 V0 M13.1,0 V-34.9 H23.5 V0"/><rect x="-5.7" y="-34.9" width="11.2" height="8.2"/><path d="M-9.9,-26.7 V6.8 H-17.8 V35.3 H17.9 V6.8 H9.7 V-26.7 Z"/></g><path d="M-0.1,-99.8 L9.8,-70.6 H4.05 V-43.5 H-4.05 V-70.6 H-10 Z" fill="#d41f2c"/></g><g font-family="Liberation Sans, sans-serif"><g transform="translate(0,78.4)"><text transform="translate(1655.06,-1.56) scale(0.9369,1)" font-size="96.33" font-weight="bold" fill="#000" stroke="#000" stroke-width="3.12" stroke-linejoin="round">QS-CH2</text></g><g transform="translate(0,738.3)"><text transform="translate(1563.29,-1.52) scale(1.0366,1)" font-size="93.7" font-weight="bold" fill="#000" stroke="#000" stroke-width="3.04" stroke-linejoin="round">QS-210/220</text></g><g transform="translate(0,1375)"><text transform="translate(1563.29,-1.52) scale(1.0366,1)" font-size="93.7" font-weight="bold" fill="#000" stroke="#000" stroke-width="3.04" stroke-linejoin="round">QS-210/220</text></g><g transform="translate(0,481.5)"><text transform="translate(193.92,-1.57) scale(0.9036,1)" font-size="97.17" font-weight="bold" fill="#000" stroke="#000" stroke-width="3.15" stroke-linejoin="round">QS-DD-20</text></g><g transform="translate(0,588.7)"><text transform="translate(136.04,-1.57) scale(0.9002,1)" font-size="97.17" font-weight="bold" fill="#000" stroke="#000" stroke-width="3.15" stroke-linejoin="round">(always first</text></g><g transform="translate(0,688.7)"><text transform="translate(197.42,-1.57) scale(0.8758,1)" font-size="97.17" font-weight="bold" fill="#000" stroke="#000" stroke-width="3.15" stroke-linejoin="round">in circuit)</text></g><g transform="translate(0,520.5)"><text transform="translate(3271.16,-1.56) scale(0.8964,1)" font-size="96.33" font-weight="bold" fill="#000" stroke="#000" stroke-width="3.12" stroke-linejoin="round">QS-BT1</text></g><g transform="translate(0,756.6)"><text transform="translate(4209.6,-1.58) scale(0.9276,1)" font-size="97.72" font-weight="bold" fill="#000" stroke="#000" stroke-width="3.17" stroke-linejoin="round">MOTION</text></g><g transform="translate(0,856.3)"><text transform="translate(4275.36,-1.58) scale(0.8536,1)" font-size="97.72" font-weight="bold" fill="#000" stroke="#000" stroke-width="3.17" stroke-linejoin="round">LOCK</text></g><g transform="translate(0,1567)"><text transform="translate(422.23,-1.04) scale(0.9137,1)" font-size="63.99" font-weight="bold" fill="#000" stroke="#000" stroke-width="2.07" stroke-linejoin="round">MOTION LOCK</text></g><g transform="translate(0,1633.7)"><text transform="translate(379.9,-1.04) scale(0.8928,1)" font-size="63.99" font-weight="bold" fill="#000" stroke="#000" stroke-width="2.07" stroke-linejoin="round">INTERLINK CABLE</text></g><g transform="translate(0,1976)"><text transform="translate(1726.76,-1.04) scale(0.8997,1)" font-size="64.27" font-weight="bold" fill="#000" stroke="#000" stroke-width="2.08" stroke-linejoin="round">MOTION LOCK INTERLINK CABLE</text></g><g transform="translate(932.1,0) rotate(90)"><text transform="translate(749.5,-1.04) scale(0.8914,1)" font-size="64.13" font-weight="bold" fill="#000" stroke="#000" stroke-width="2.08" stroke-linejoin="round">INTERLINK CABLE</text></g><g transform="translate(998.9,0) rotate(90)"><text transform="translate(792.14,-1.04) scale(0.9100,1)" font-size="64.13" font-weight="bold" fill="#000" stroke="#000" stroke-width="2.08" stroke-linejoin="round">MOTION LOCK</text></g><g transform="translate(930.1,0) rotate(90)"><text transform="translate(1413,-1.04) scale(0.8868,1)" font-size="64.41" font-weight="bold" fill="#000" stroke="#000" stroke-width="2.09" stroke-linejoin="round">INTERLINK CABLE</text></g><g transform="translate(997.1,0) rotate(90)"><text transform="translate(1455.63,-1.04) scale(0.9108,1)" font-size="64.13" font-weight="bold" fill="#000" stroke="#000" stroke-width="2.08" stroke-linejoin="round">MOTION LOCK</text></g></g><g fill="none" stroke="#000" stroke-linejoin="round"><path d="M3164.3,560.7 H3389.9 A12,12 0 0 1 3401.9,572.7 V650.4 A12,12 0 0 1 3389.9,662.4 H3371.8 Q3368.8,662.4 3364.8,666.4 L3344.8,686.4 Q3339.8,690.7 3331.8,690.7 M3217.7,690.7 Q3209.7,690.7 3204.7,686.4 L3184.7,666.4 Q3180.7,662.4 3177.7,662.4 H3164.3 A12,12 0 0 1 3152.3,650.4 V572.7 A12,12 0 0 1 3164.3,560.7" stroke-width="3.2"/><ellipse cx="3165.5" cy="574.2" rx="10.6" ry="11.3" stroke-width="3"/><circle cx="3165.5" cy="574.2" r="3.6" stroke-width="2.6"/><ellipse cx="3165.5" cy="611.5" rx="10.6" ry="11.3" stroke-width="3"/><circle cx="3165.5" cy="611.5" r="3.6" stroke-width="2.6"/><ellipse cx="3165.5" cy="648.9" rx="10.6" ry="11.3" stroke-width="3"/><circle cx="3165.5" cy="648.9" r="3.6" stroke-width="2.6"/><ellipse cx="3388.3" cy="574.2" rx="10.6" ry="11.3" stroke-width="3"/><circle cx="3388.3" cy="574.2" r="3.6" stroke-width="2.6"/><ellipse cx="3388.3" cy="648.9" rx="10.6" ry="11.3" stroke-width="3"/><circle cx="3388.3" cy="648.9" r="3.6" stroke-width="2.6"/><path d="M3480.3,560.7 H3706.7 A12,12 0 0 1 3718.7,572.7 V650.4 A12,12 0 0 1 3706.7,662.4 H3692.3 Q3689.3,662.4 3685.3,666.4 L3665.3,686.4 Q3660.3,690.7 3652.3,690.7 M3538,690.7 Q3530,690.7 3525,686.4 L3505,666.4 Q3501,662.4 3498,662.4 H3480.3 A12,12 0 0 1 3468.3,650.4 V572.7 A12,12 0 0 1 3480.3,560.7" stroke-width="3.2"/><ellipse cx="3481.8" cy="574.2" rx="10.6" ry="11.3" stroke-width="3"/><circle cx="3481.8" cy="574.2" r="3.6" stroke-width="2.6"/><ellipse cx="3481.8" cy="611.5" rx="10.6" ry="11.3" stroke-width="3"/><circle cx="3481.8" cy="611.5" r="3.6" stroke-width="2.6"/><ellipse cx="3481.8" cy="648.9" rx="10.6" ry="11.3" stroke-width="3"/><circle cx="3481.8" cy="648.9" r="3.6" stroke-width="2.6"/><ellipse cx="3704.4" cy="574.2" rx="10.6" ry="11.3" stroke-width="3"/><circle cx="3704.4" cy="574.2" r="3.6" stroke-width="2.6"/><ellipse cx="3704.4" cy="648.9" rx="10.6" ry="11.3" stroke-width="3"/><circle cx="3704.4" cy="648.9" r="3.6" stroke-width="2.6"/><path d="M3217.7,670 V1130.5 M3331.8,670 V1130.5" stroke-width="3.2"/><rect x="3216.7" y="665.5" width="118.1" height="5" stroke-width="3.2"/><path d="M3217.7,1073.2 H3210.2 A12,12 0 0 0 3198.2,1085.2 V1130.5" stroke-width="3"/><path d="M3331.8,981.8 H3341.1 A12,12 0 0 1 3353.1,993.8 V1130.5" stroke-width="3"/><path d="M3331.8,1007.8 A8,8 0 0 1 3331.8,1023.8" stroke-width="3"/><path d="M3331.8,1099.6 A8,8 0 0 1 3331.8,1115.6" stroke-width="3"/><rect x="3177.2" y="1131.5" width="195.1" height="13" stroke-width="3"/><path d="M3177.7,1130.8 H3371.8" stroke-width="4.8"/><path d="M3538,670 V1130.5 M3652.3,670 V1130.5" stroke-width="3.2"/><rect x="3537" y="665.5" width="118.3" height="5" stroke-width="3.2"/><path d="M3652.3,1073.2 H3659.8 A12,12 0 0 1 3671.8,1085.2 V1130.5" stroke-width="3"/><path d="M3538,981.8 H3528.7 A12,12 0 0 0 3516.7,993.8 V1130.5" stroke-width="3"/><path d="M3538,1007.8 A8,8 0 0 0 3538,1023.8" stroke-width="3"/><path d="M3538,1099.6 A8,8 0 0 0 3538,1115.6" stroke-width="3"/><rect x="3497.5" y="1131.5" width="195.3" height="13" stroke-width="3"/><path d="M3498,1130.8 H3692.3" stroke-width="4.8"/><path d="M2803,1144.8 H4073.5 M2803,1353.1 H4073.5" stroke-width="3.3"/><path d="M2803.5,1143.5 V1249" stroke="#777" stroke-width="5.5"/><path d="M2803.5,1249 V1354.5" stroke-width="5.5"/><rect x="4069.5" y="1144" width="4" height="210" fill="#999" stroke="none"/><path d="M4069.5,1143.5 V1354.5 M4073.5,1143.5 V1354.5" stroke-width="2.6"/><path d="M2803,1245.2 H3106 A3.9,3.9 0 0 1 3106,1253 H2803" stroke-width="3"/><path d="M4073,1245.2 H3767 A3.9,3.9 0 0 0 3767,1253 H4073" stroke-width="3"/><path d="M3110,1249.8 H3218.4 M3651.3,1249.8 H3763" stroke-width="2.6"/><path d="M3218.4,1249.8 L3229.5,1235 H3640.5 L3651.3,1249.8 L3640.5,1264.4 H3229.5 Z" stroke-width="3.3"/><circle cx="2830" cy="1229" r="8.3" stroke-width="2.8"/><circle cx="2830" cy="1229" r="2.6" stroke-width="2.2"/><circle cx="3434.7" cy="1194" r="8.3" stroke-width="2.8"/><circle cx="3434.7" cy="1194" r="2.6" stroke-width="2.2"/><circle cx="4043.8" cy="1230.2" r="8.3" stroke-width="2.8"/><circle cx="4043.8" cy="1230.2" r="2.6" stroke-width="2.2"/><circle cx="3161.7" cy="1230.2" r="9.6" stroke-width="2.9"/><circle cx="3161.7" cy="1268.1" r="9.6" stroke-width="2.9"/><circle cx="3708.2" cy="1230.2" r="9.6" stroke-width="2.9"/><circle cx="3708.2" cy="1268.1" r="9.6" stroke-width="2.9"/><path d="M3152.2,1354 V1356 Q3152.2,1359.5 3155.7,1359.5 H3166.7 Q3170.2,1359.5 3170.2,1356 V1354" stroke-width="2.6"/><path d="M3426.3,1354 V1356 Q3426.3,1359.5 3429.8,1359.5 H3440.8 Q3444.3,1359.5 3444.3,1356 V1354" stroke-width="2.6"/><path d="M3700,1354 V1356 Q3700,1359.5 3703.5,1359.5 H3714.5 Q3718,1359.5 3718,1356 V1354" stroke-width="2.6"/><path d="M2970.2,1228.03 L2972.1,1223.08 L2975.07,1217.25 L2976.96,1214.35 L2980.9,1214.35 L2985.55,1222.4 L2980.9,1230.45 L2971.6,1230.45 Z M2984.6,1232.6 L2989.25,1224.55 L2998.55,1224.55 L3003.2,1232.6 L2998.55,1240.65 L2989.25,1240.65 Z M2984.6,1212.1 L2989.25,1204.05 L2998.55,1204.05 L3003.2,1212.1 L2998.55,1220.15 L2989.25,1220.15 Z M2992.46,1197.94 L2997.95,1194.37 L3003.12,1191.74 L2998.55,1199.65 L2990.34,1199.65 Z M3002.25,1222.4 L3006.9,1214.35 L3016.2,1214.35 L3020.85,1222.4 L3016.2,1230.45 L3006.9,1230.45 Z M3002.25,1201.9 L3006.9,1193.85 L3016.2,1193.85 L3020.85,1201.9 L3016.2,1209.95 L3006.9,1209.95 Z M3009.89,1189.06 L3016.21,1187.37 L3017.53,1187.16 L3016.2,1189.45 L3008.86,1189.45 Z M3019.9,1232.6 L3024.55,1224.55 L3033.85,1224.55 L3038.5,1232.6 L3033.85,1240.65 L3024.55,1240.65 Z M3019.9,1212.1 L3024.55,1204.05 L3033.85,1204.05 L3038.5,1212.1 L3033.85,1220.15 L3024.55,1220.15 Z M3019.9,1191.6 L3022.94,1186.33 L3029.2,1186 L3035.46,1186.33 L3038.5,1191.6 L3033.85,1199.65 L3024.55,1199.65 Z M3037.55,1222.4 L3042.2,1214.35 L3051.5,1214.35 L3056.15,1222.4 L3051.5,1230.45 L3042.2,1230.45 Z M3037.55,1201.9 L3042.2,1193.85 L3051.5,1193.85 L3056.15,1201.9 L3051.5,1209.95 L3042.2,1209.95 Z M3040.87,1187.16 L3042.19,1187.37 L3048.51,1189.06 L3049.54,1189.45 L3042.2,1189.45 Z M3055.2,1232.6 L3059.85,1224.55 L3069.15,1224.55 L3073.8,1232.6 L3069.15,1240.65 L3059.85,1240.65 Z M3055.2,1212.1 L3059.85,1204.05 L3069.15,1204.05 L3073.8,1212.1 L3069.15,1220.15 L3059.85,1220.15 Z M3055.28,1191.74 L3060.45,1194.37 L3065.94,1197.94 L3068.06,1199.65 L3059.85,1199.65 Z M3072.85,1222.4 L3077.5,1214.35 L3081.44,1214.35 L3083.33,1217.25 L3086.3,1223.08 L3088.2,1228.03 L3086.8,1230.45 L3077.5,1230.45 Z M2975.07,1279.75 L2972.1,1273.92 L2969.76,1267.81 L2969.69,1267.55 L2971.6,1264.25 L2980.9,1264.25 L2985.55,1272.3 L2980.9,1280.35 L2975.47,1280.35 Z M2982.75,1290.32 L2978.64,1285.24 L2978.32,1284.75 L2980.9,1284.75 L2985.55,1292.8 L2985.43,1293 Z M2984.6,1262.1 L2989.25,1254.05 L2998.55,1254.05 L3003.2,1262.1 L2998.55,1270.15 L2989.25,1270.15 Z M2984.6,1282.6 L2989.25,1274.55 L2998.55,1274.55 L3003.2,1282.6 L2998.55,1290.65 L2989.25,1290.65 Z M2997.95,1302.63 L2992.46,1299.06 L2988.69,1296.01 L2989.25,1295.05 L2998.55,1295.05 L3003.2,1303.1 L3002.22,1304.8 Z M3002.25,1272.3 L3006.9,1264.25 L3016.2,1264.25 L3020.85,1272.3 L3016.2,1280.35 L3006.9,1280.35 Z M3002.25,1292.8 L3006.9,1284.75 L3016.2,1284.75 L3020.85,1292.8 L3016.2,1300.85 L3006.9,1300.85 Z M3016.21,1309.63 L3009.89,1307.94 L3006.17,1306.51 L3006.9,1305.25 L3016.2,1305.25 L3018.99,1310.07 Z M3019.9,1262.1 L3024.55,1254.05 L3033.85,1254.05 L3038.5,1262.1 L3033.85,1270.15 L3024.55,1270.15 Z M3019.9,1282.6 L3024.55,1274.55 L3033.85,1274.55 L3038.5,1282.6 L3033.85,1290.65 L3024.55,1290.65 Z M3024.31,1310.74 L3019.9,1303.1 L3024.55,1295.05 L3033.85,1295.05 L3038.5,1303.1 L3034.09,1310.74 L3029.2,1311 Z M3037.55,1272.3 L3042.2,1264.25 L3051.5,1264.25 L3056.15,1272.3 L3051.5,1280.35 L3042.2,1280.35 Z M3037.55,1292.8 L3042.2,1284.75 L3051.5,1284.75 L3056.15,1292.8 L3051.5,1300.85 L3042.2,1300.85 Z M3048.51,1307.94 L3042.19,1309.63 L3039.41,1310.07 L3042.2,1305.25 L3051.5,1305.25 L3052.23,1306.51 Z M3055.2,1262.1 L3059.85,1254.05 L3069.15,1254.05 L3073.8,1262.1 L3069.15,1270.15 L3059.85,1270.15 Z M3055.2,1282.6 L3059.85,1274.55 L3069.15,1274.55 L3073.8,1282.6 L3069.15,1290.65 L3059.85,1290.65 Z M3065.94,1299.06 L3060.45,1302.63 L3056.18,1304.8 L3055.2,1303.1 L3059.85,1295.05 L3069.15,1295.05 L3069.71,1296.01 Z M3072.85,1272.3 L3077.5,1264.25 L3086.8,1264.25 L3088.71,1267.55 L3088.64,1267.81 L3086.3,1273.92 L3083.33,1279.75 L3082.93,1280.35 L3077.5,1280.35 Z M3079.76,1285.24 L3075.65,1290.32 L3072.97,1293 L3072.85,1292.8 L3077.5,1284.75 L3080.08,1284.75 Z" stroke-width="3.1"/><path d="M3785.4,1228.03 L3787.3,1223.08 L3790.27,1217.25 L3792.16,1214.35 L3796.1,1214.35 L3800.75,1222.4 L3796.1,1230.45 L3786.8,1230.45 Z M3799.8,1232.6 L3804.45,1224.55 L3813.75,1224.55 L3818.4,1232.6 L3813.75,1240.65 L3804.45,1240.65 Z M3799.8,1212.1 L3804.45,1204.05 L3813.75,1204.05 L3818.4,1212.1 L3813.75,1220.15 L3804.45,1220.15 Z M3807.66,1197.94 L3813.15,1194.37 L3818.32,1191.74 L3813.75,1199.65 L3805.54,1199.65 Z M3817.45,1222.4 L3822.1,1214.35 L3831.4,1214.35 L3836.05,1222.4 L3831.4,1230.45 L3822.1,1230.45 Z M3817.45,1201.9 L3822.1,1193.85 L3831.4,1193.85 L3836.05,1201.9 L3831.4,1209.95 L3822.1,1209.95 Z M3825.09,1189.06 L3831.41,1187.37 L3832.73,1187.16 L3831.4,1189.45 L3824.06,1189.45 Z M3835.1,1232.6 L3839.75,1224.55 L3849.05,1224.55 L3853.7,1232.6 L3849.05,1240.65 L3839.75,1240.65 Z M3835.1,1212.1 L3839.75,1204.05 L3849.05,1204.05 L3853.7,1212.1 L3849.05,1220.15 L3839.75,1220.15 Z M3835.1,1191.6 L3838.14,1186.33 L3844.4,1186 L3850.66,1186.33 L3853.7,1191.6 L3849.05,1199.65 L3839.75,1199.65 Z M3852.75,1222.4 L3857.4,1214.35 L3866.7,1214.35 L3871.35,1222.4 L3866.7,1230.45 L3857.4,1230.45 Z M3852.75,1201.9 L3857.4,1193.85 L3866.7,1193.85 L3871.35,1201.9 L3866.7,1209.95 L3857.4,1209.95 Z M3856.07,1187.16 L3857.39,1187.37 L3863.71,1189.06 L3864.74,1189.45 L3857.4,1189.45 Z M3870.4,1232.6 L3875.05,1224.55 L3884.35,1224.55 L3889,1232.6 L3884.35,1240.65 L3875.05,1240.65 Z M3870.4,1212.1 L3875.05,1204.05 L3884.35,1204.05 L3889,1212.1 L3884.35,1220.15 L3875.05,1220.15 Z M3870.48,1191.74 L3875.65,1194.37 L3881.14,1197.94 L3883.26,1199.65 L3875.05,1199.65 Z M3888.05,1222.4 L3892.7,1214.35 L3896.64,1214.35 L3898.53,1217.25 L3901.5,1223.08 L3903.4,1228.03 L3902,1230.45 L3892.7,1230.45 Z M3790.27,1279.75 L3787.3,1273.92 L3784.96,1267.81 L3784.89,1267.55 L3786.8,1264.25 L3796.1,1264.25 L3800.75,1272.3 L3796.1,1280.35 L3790.67,1280.35 Z M3797.95,1290.32 L3793.84,1285.24 L3793.52,1284.75 L3796.1,1284.75 L3800.75,1292.8 L3800.63,1293 Z M3799.8,1262.1 L3804.45,1254.05 L3813.75,1254.05 L3818.4,1262.1 L3813.75,1270.15 L3804.45,1270.15 Z M3799.8,1282.6 L3804.45,1274.55 L3813.75,1274.55 L3818.4,1282.6 L3813.75,1290.65 L3804.45,1290.65 Z M3813.15,1302.63 L3807.66,1299.06 L3803.89,1296.01 L3804.45,1295.05 L3813.75,1295.05 L3818.4,1303.1 L3817.42,1304.8 Z M3817.45,1272.3 L3822.1,1264.25 L3831.4,1264.25 L3836.05,1272.3 L3831.4,1280.35 L3822.1,1280.35 Z M3817.45,1292.8 L3822.1,1284.75 L3831.4,1284.75 L3836.05,1292.8 L3831.4,1300.85 L3822.1,1300.85 Z M3831.41,1309.63 L3825.09,1307.94 L3821.37,1306.51 L3822.1,1305.25 L3831.4,1305.25 L3834.19,1310.07 Z M3835.1,1262.1 L3839.75,1254.05 L3849.05,1254.05 L3853.7,1262.1 L3849.05,1270.15 L3839.75,1270.15 Z M3835.1,1282.6 L3839.75,1274.55 L3849.05,1274.55 L3853.7,1282.6 L3849.05,1290.65 L3839.75,1290.65 Z M3839.51,1310.74 L3835.1,1303.1 L3839.75,1295.05 L3849.05,1295.05 L3853.7,1303.1 L3849.29,1310.74 L3844.4,1311 Z M3852.75,1272.3 L3857.4,1264.25 L3866.7,1264.25 L3871.35,1272.3 L3866.7,1280.35 L3857.4,1280.35 Z M3852.75,1292.8 L3857.4,1284.75 L3866.7,1284.75 L3871.35,1292.8 L3866.7,1300.85 L3857.4,1300.85 Z M3863.71,1307.94 L3857.39,1309.63 L3854.61,1310.07 L3857.4,1305.25 L3866.7,1305.25 L3867.43,1306.51 Z M3870.4,1262.1 L3875.05,1254.05 L3884.35,1254.05 L3889,1262.1 L3884.35,1270.15 L3875.05,1270.15 Z M3870.4,1282.6 L3875.05,1274.55 L3884.35,1274.55 L3889,1282.6 L3884.35,1290.65 L3875.05,1290.65 Z M3881.14,1299.06 L3875.65,1302.63 L3871.38,1304.8 L3870.4,1303.1 L3875.05,1295.05 L3884.35,1295.05 L3884.91,1296.01 Z M3888.05,1272.3 L3892.7,1264.25 L3902,1264.25 L3903.91,1267.55 L3903.84,1267.81 L3901.5,1273.92 L3898.53,1279.75 L3898.13,1280.35 L3892.7,1280.35 Z M3894.96,1285.24 L3890.85,1290.32 L3888.17,1293 L3888.05,1292.8 L3892.7,1284.75 L3895.28,1284.75 Z" stroke-width="3.1"/></g><g fill="none" stroke="#000" stroke-linejoin="round" stroke-width="3.6"><path d="M4333.5,929 Q4394.5,906.5 4455.5,929" stroke-width="3.4"/><rect x="4332.5" y="927.6" width="124" height="15.6" rx="5.5" stroke-width="3.6"/><path d="M4334,938.4 H4455" stroke-width="4.2"/><path d="M4334,941.9 H4455" stroke-width="0.9"/><rect x="4345" y="929.5" width="3.6" height="7" fill="#000" stroke="none"/><rect x="4352.2" y="929.5" width="4.2" height="7" fill="#000" stroke="none"/><rect x="4382.6" y="929.5" width="4.2" height="7" fill="#000" stroke="none"/><rect x="4392.7" y="929.5" width="4.2" height="7" fill="#000" stroke="none"/><rect x="4402.3" y="929.5" width="4.1" height="7" fill="#000" stroke="none"/><rect x="4429.1" y="929.5" width="3.6" height="7" fill="#000" stroke="none"/><rect x="4437.4" y="929.5" width="6.0" height="7" fill="#000" stroke="none"/><path d="M4347.8,943 V974.1 H4441.7 V943" /><path d="M4352.8,974.1 V1018.7 M4436.3,974.1 V1018.7"/><path d="M4356.5,975.5 V983.7 M4359.5,975.5 V983.7 M4374.2,975.5 V983.7 M4384.7,975.5 V983.7 M4394.2,975.5 V983.7 M4404.1,975.5 V983.7 M4414.8,975.5 V983.7 M4428.5,975.5 V983.7 M4431.5,975.5 V983.7 " stroke-width="3.8"/><path d="M4366.8,975 V1005.2 M4421.8,975 V1005.2" stroke-width="3.8"/><rect x="4350.8" y="1018.7" width="88" height="15.6" rx="2.5"/><path d="M4299.8,1037.1 H4489.2 L4502,1048.4 V1205.3 H4287 V1048.4 Z"/><path d="M4298.4,1045.6 Q4320,1047 4340.8,1051.2 H4449.6 Q4470,1047 4489.2,1044.7"/><path d="M4298.4,1045.6 V1205.3 M4340.5,1051.2 V1205.3 M4449,1051.2 V1205.3 M4491.4,1044.7 V1205.3"/><path d="M4287,1126.1 H4325.2 Q4358,1101.3 4394.5,1101.3 Q4431,1101.3 4462.3,1126.1 H4502"/><path d="M4346.4,1205.3 V1155.8 A48,46.6 0 0 1 4442.5,1155.8 V1205.3"/><circle cx="4394.5" cy="1155.8" r="29.8"/></g></svg></body></html>
